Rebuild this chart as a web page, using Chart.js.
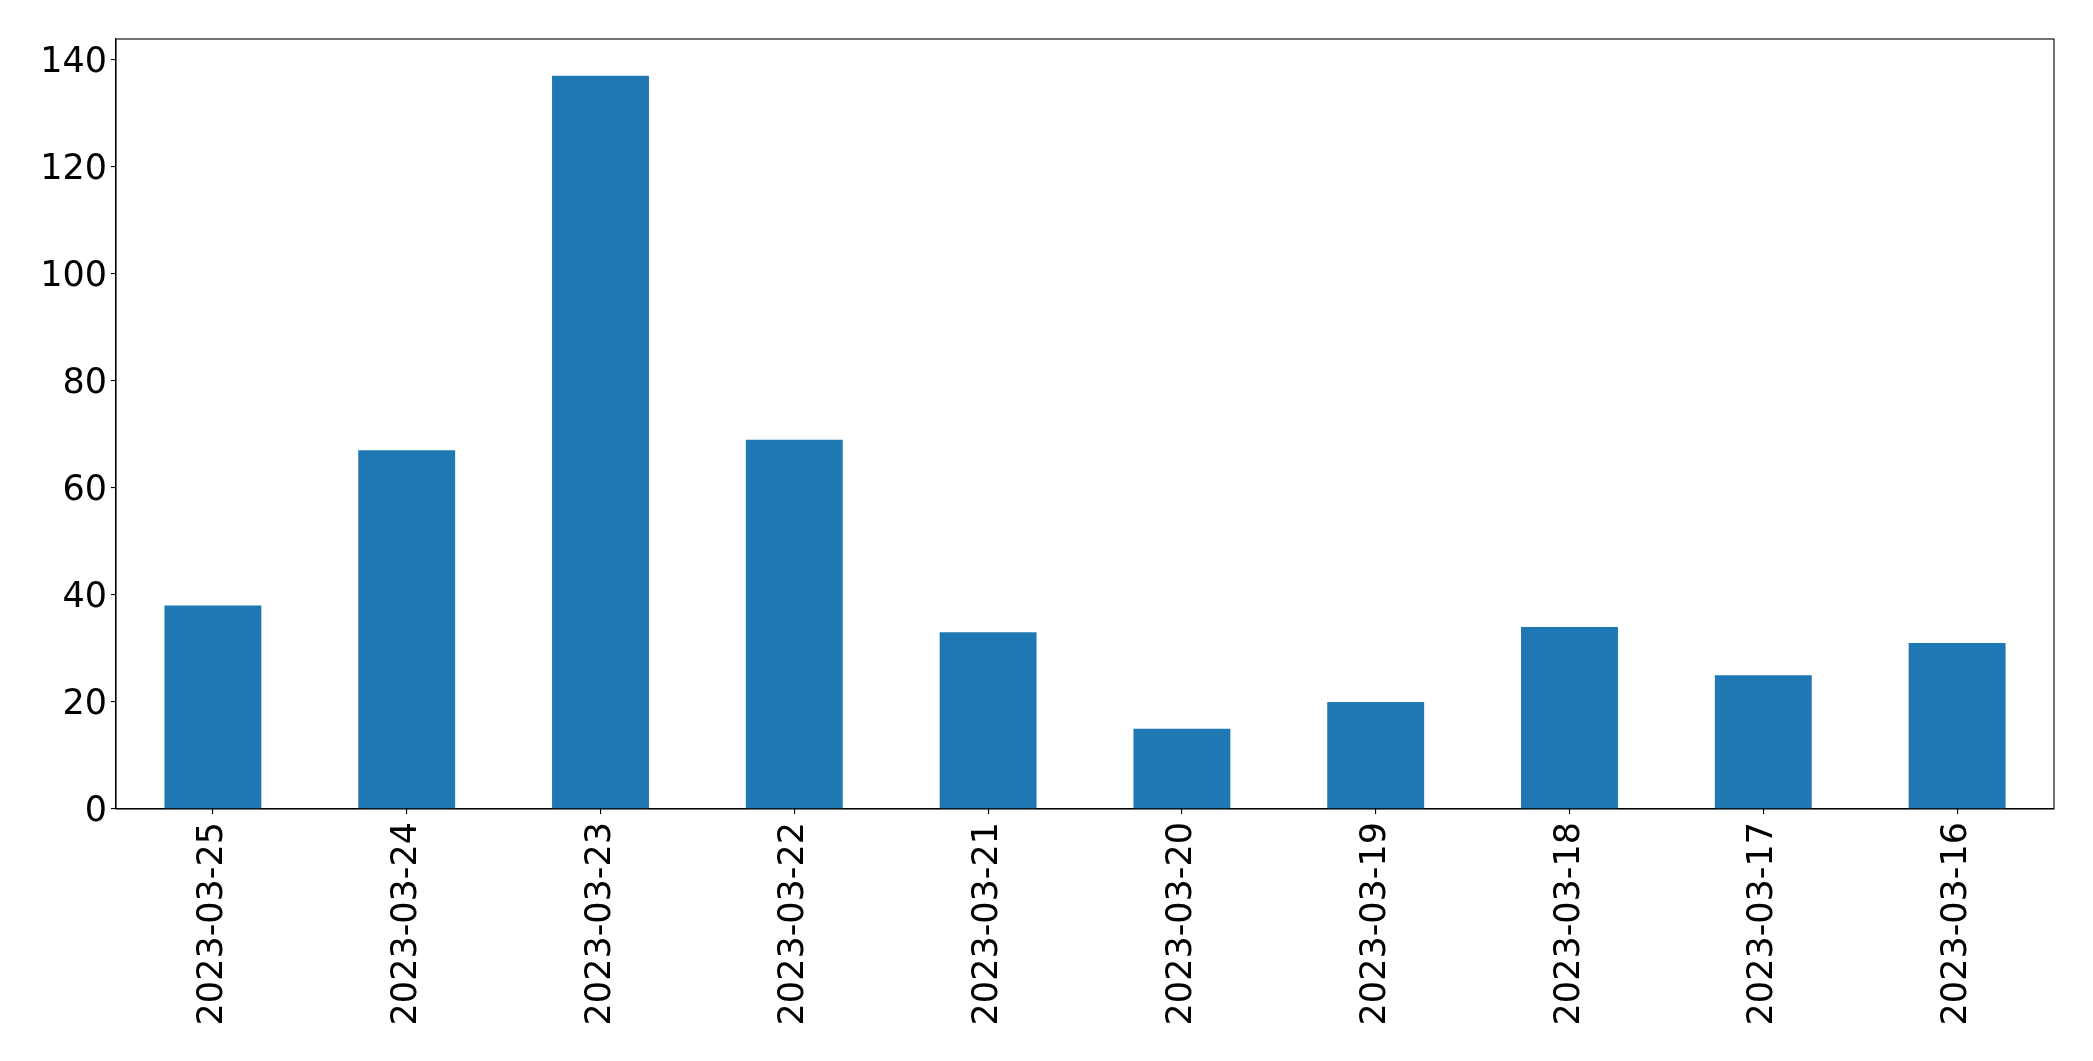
<!DOCTYPE html>
<html>
<head>
<meta charset="utf-8">
<script src="https://cdn.jsdelivr.net/npm/chart.js@4/dist/chart.umd.min.js"></script>
<style>
  html, body { margin: 0; padding: 0; background: #ffffff; }
  #wrap { width: 2093px; height: 1061px; position: relative; }
</style>
</head>
<body>
<div id="wrap"><canvas id="c" width="2093" height="1061"></canvas></div>
<script>
const categories = ["2023-03-25", "2023-03-24", "2023-03-23", "2023-03-22", "2023-03-21",
                    "2023-03-20", "2023-03-19", "2023-03-18", "2023-03-17", "2023-03-16"];
const counts = [38, 67, 137, 69, 33, 15, 20, 34, 25, 31];
const yTicks = [0, 20, 40, 60, 80, 100, 120, 140];
const yMax = 143.85;

const frame = {
  id: 'frame',
  afterDraw(chart) {
    const a = chart.chartArea, ctx = chart.ctx;
    ctx.save();
    ctx.strokeStyle = '#000000';
    ctx.lineWidth = 1.1;
    ctx.strokeRect(a.left, a.top, a.right - a.left, a.bottom - a.top);
    ctx.restore();
  }
};

new Chart(document.getElementById('c'), {
  type: 'bar',
  data: {
    labels: categories,
    datasets: [{
      data: counts,
      backgroundColor: '#1f77b4',
      borderWidth: 0,
      categoryPercentage: 0.5,
      barPercentage: 1.0
    }]
  },
  options: {
    responsive: false,
    animation: false,
    devicePixelRatio: 1,
    layout: { padding: { top: 39, right: 39, left: 0, bottom: 0 } },
    plugins: { legend: { display: false }, tooltip: { enabled: false } },
    scales: {
      x: {
        offset: true,
        grid: { offset: false, drawOnChartArea: false, drawTicks: true, tickLength: 5, color: '#000000', lineWidth: 1.1 },
        border: { display: true, color: '#000000', width: 1.1 },
        ticks: {
          color: '#000000',
          font: { family: 'DejaVu Sans', size: 35 },
          minRotation: 90, maxRotation: 90,
          autoSkip: false,
          padding: 8
        },
        afterFit(scale) { scale.height = 252; }
      },
      y: {
        min: 0, max: yMax,
        grid: { drawOnChartArea: false, drawTicks: true, tickLength: 5, color: '#000000', lineWidth: 1.1 },
        border: { display: true, color: '#000000', width: 1.1 },
        ticks: {
          color: '#000000',
          font: { family: 'DejaVu Sans', size: 35 },
          padding: 4,
          labelOffset: 3
        },
        afterBuildTicks(scale) { scale.ticks = yTicks.map(v => ({ value: v })); },
        afterFit(scale) { scale.width = 116; }
      }
    }
  },
  plugins: [frame]
});
</script>
</body>
</html>
